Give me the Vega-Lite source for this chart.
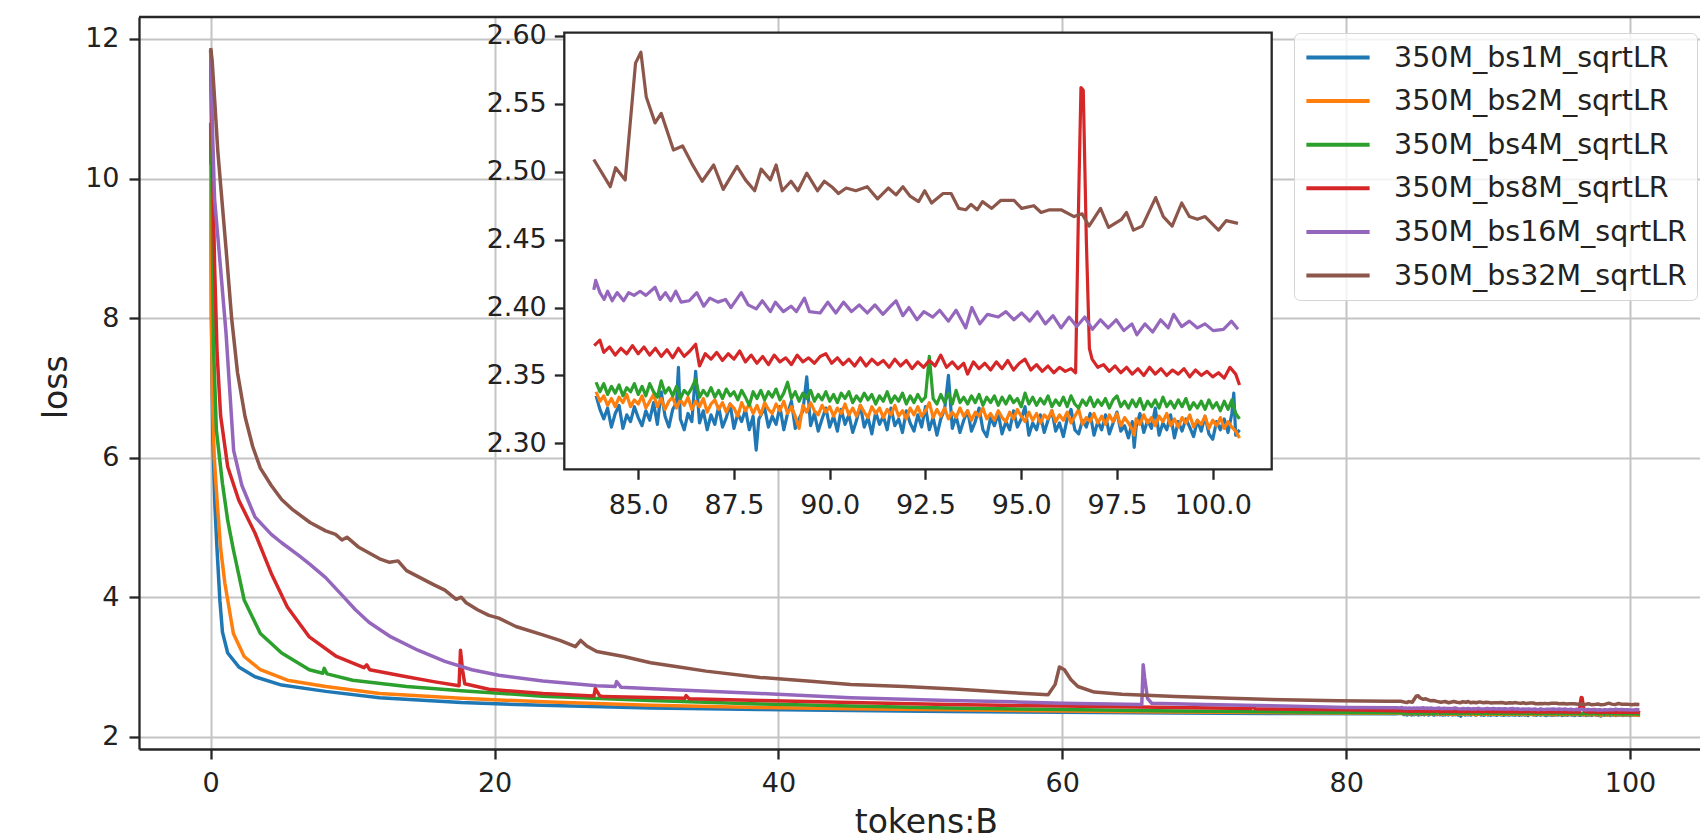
{
"$schema": "https://vega.github.io/schema/vega-lite/v6.json",
"width": 1561, "height": 732,
"autosize": "none",
"padding": {"left": 139, "top": 17, "right": 0, "bottom": 91},
"background": "white",
"config": {"view": {"stroke": null}, "font": "DejaVu Sans"},
"datasets": {
"names": [{"k":1,"s":"350M_bs1M_sqrtLR"},{"k":2,"s":"350M_bs2M_sqrtLR"},{"k":3,"s":"350M_bs4M_sqrtLR"},{"k":4,"s":"350M_bs8M_sqrtLR"},{"k":5,"s":"350M_bs16M_sqrtLR"},{"k":6,"s":"350M_bs32M_sqrtLR"}],
"d": [
{"k":1,"t":0,"l":10.8},{"k":1,"t":0.05,"l":8.0},{"k":1,"t":0.15,"l":6.3},{"k":1,"t":0.3,"l":5.3},{"k":1,"t":0.45,"l":4.68},{"k":1,"t":0.65,"l":3.95},{"k":1,"t":0.83,"l":3.5},{"k":1,"t":1.2,"l":3.2},{"k":1,"t":1.98,"l":3.0},{"k":1,"t":3.12,"l":2.86},{"k":1,"t":5.0,"l":2.74},{"k":1,"t":8.1,"l":2.65},{"k":1,"t":11.9,"l":2.56},{"k":1,"t":17.65,"l":2.49},{"k":1,"t":23.4,"l":2.45},{"k":1,"t":31,"l":2.41},{"k":1,"t":38.7,"l":2.39},{"k":1,"t":45.1,"l":2.375},{"k":1,"t":52,"l":2.36},{"k":1,"t":60,"l":2.35},{"k":1,"t":68,"l":2.34},{"k":1,"t":76,"l":2.333},{"k":1,"t":83.5,"l":2.328},
{"k":1,"t":83.9,"l":2.335},{"k":1,"t":84.0,"l":2.325},{"k":1,"t":84.1,"l":2.318},{"k":1,"t":84.2,"l":2.326},{"k":1,"t":84.3,"l":2.312},{"k":1,"t":84.4,"l":2.322},{"k":1,"t":84.5,"l":2.328},{"k":1,"t":84.6,"l":2.311},{"k":1,"t":84.7,"l":2.321},{"k":1,"t":84.8,"l":2.316},{"k":1,"t":84.9,"l":2.327},{"k":1,"t":85.0,"l":2.319},{"k":1,"t":85.1,"l":2.313},{"k":1,"t":85.2,"l":2.324},{"k":1,"t":85.3,"l":2.317},{"k":1,"t":85.4,"l":2.33},{"k":1,"t":85.5,"l":2.314},{"k":1,"t":85.6,"l":2.338},{"k":1,"t":85.7,"l":2.32},{"k":1,"t":85.8,"l":2.312},{"k":1,"t":85.9,"l":2.325},{"k":1,"t":86.0,"l":2.33},{"k":1,"t":86.05,"l":2.356},{"k":1,"t":86.1,"l":2.318},{"k":1,"t":86.2,"l":2.31},{"k":1,"t":86.3,"l":2.322},{"k":1,"t":86.4,"l":2.316},{"k":1,"t":86.5,"l":2.353},{"k":1,"t":86.6,"l":2.315},{"k":1,"t":86.7,"l":2.324},{"k":1,"t":86.8,"l":2.31},{"k":1,"t":86.9,"l":2.321},{"k":1,"t":87.0,"l":2.314},{"k":1,"t":87.1,"l":2.327},{"k":1,"t":87.2,"l":2.312},{"k":1,"t":87.3,"l":2.319},{"k":1,"t":87.4,"l":2.329},{"k":1,"t":87.5,"l":2.311},{"k":1,"t":87.6,"l":2.322},{"k":1,"t":87.7,"l":2.316},{"k":1,"t":87.8,"l":2.325},{"k":1,"t":87.9,"l":2.31},{"k":1,"t":88.0,"l":2.32},{"k":1,"t":88.08,"l":2.295},{"k":1,"t":88.15,"l":2.318},{"k":1,"t":88.3,"l":2.326},{"k":1,"t":88.4,"l":2.312},{"k":1,"t":88.5,"l":2.32},{"k":1,"t":88.6,"l":2.314},{"k":1,"t":88.7,"l":2.327},{"k":1,"t":88.8,"l":2.31},{"k":1,"t":88.9,"l":2.322},{"k":1,"t":89.0,"l":2.331},{"k":1,"t":89.1,"l":2.311},{"k":1,"t":89.2,"l":2.318},{"k":1,"t":89.3,"l":2.324},{"k":1,"t":89.4,"l":2.349},{"k":1,"t":89.5,"l":2.313},{"k":1,"t":89.6,"l":2.322},{"k":1,"t":89.7,"l":2.309},{"k":1,"t":89.8,"l":2.318},{"k":1,"t":89.9,"l":2.326},{"k":1,"t":90.0,"l":2.312},{"k":1,"t":90.1,"l":2.32},{"k":1,"t":90.2,"l":2.309},{"k":1,"t":90.3,"l":2.325},{"k":1,"t":90.4,"l":2.314},{"k":1,"t":90.5,"l":2.321},{"k":1,"t":90.6,"l":2.308},{"k":1,"t":90.7,"l":2.317},{"k":1,"t":90.8,"l":2.328},{"k":1,"t":90.9,"l":2.312},{"k":1,"t":91.0,"l":2.319},{"k":1,"t":91.1,"l":2.307},{"k":1,"t":91.2,"l":2.323},{"k":1,"t":91.3,"l":2.314},{"k":1,"t":91.4,"l":2.32},{"k":1,"t":91.5,"l":2.31},{"k":1,"t":91.6,"l":2.326},{"k":1,"t":91.7,"l":2.313},{"k":1,"t":91.8,"l":2.318},{"k":1,"t":91.9,"l":2.308},{"k":1,"t":92.0,"l":2.324},{"k":1,"t":92.1,"l":2.315},{"k":1,"t":92.2,"l":2.309},{"k":1,"t":92.3,"l":2.321},{"k":1,"t":92.4,"l":2.312},{"k":1,"t":92.5,"l":2.327},{"k":1,"t":92.6,"l":2.31},{"k":1,"t":92.7,"l":2.319},{"k":1,"t":92.8,"l":2.306},{"k":1,"t":92.9,"l":2.318},{"k":1,"t":93.0,"l":2.325},{"k":1,"t":93.1,"l":2.35},{"k":1,"t":93.2,"l":2.311},{"k":1,"t":93.3,"l":2.32},{"k":1,"t":93.4,"l":2.308},{"k":1,"t":93.5,"l":2.317},{"k":1,"t":93.6,"l":2.324},{"k":1,"t":93.7,"l":2.309},{"k":1,"t":93.8,"l":2.316},{"k":1,"t":93.9,"l":2.326},{"k":1,"t":94.0,"l":2.31},{"k":1,"t":94.1,"l":2.305},{"k":1,"t":94.2,"l":2.319},{"k":1,"t":94.3,"l":2.313},{"k":1,"t":94.4,"l":2.322},{"k":1,"t":94.5,"l":2.307},{"k":1,"t":94.6,"l":2.316},{"k":1,"t":94.7,"l":2.31},{"k":1,"t":94.8,"l":2.324},{"k":1,"t":94.9,"l":2.312},{"k":1,"t":95.0,"l":2.318},{"k":1,"t":95.1,"l":2.327},{"k":1,"t":95.2,"l":2.306},{"k":1,"t":95.3,"l":2.315},{"k":1,"t":95.4,"l":2.31},{"k":1,"t":95.5,"l":2.321},{"k":1,"t":95.6,"l":2.308},{"k":1,"t":95.7,"l":2.317},{"k":1,"t":95.8,"l":2.324},{"k":1,"t":95.9,"l":2.309},{"k":1,"t":96.0,"l":2.315},{"k":1,"t":96.1,"l":2.305},{"k":1,"t":96.2,"l":2.318},{"k":1,"t":96.3,"l":2.325},{"k":1,"t":96.4,"l":2.31},{"k":1,"t":96.5,"l":2.307},{"k":1,"t":96.6,"l":2.317},{"k":1,"t":96.7,"l":2.312},{"k":1,"t":96.8,"l":2.322},{"k":1,"t":96.9,"l":2.306},{"k":1,"t":97.0,"l":2.316},{"k":1,"t":97.1,"l":2.31},{"k":1,"t":97.2,"l":2.321},{"k":1,"t":97.3,"l":2.307},{"k":1,"t":97.4,"l":2.315},{"k":1,"t":97.5,"l":2.323},{"k":1,"t":97.6,"l":2.309},{"k":1,"t":97.7,"l":2.313},{"k":1,"t":97.8,"l":2.304},{"k":1,"t":97.9,"l":2.316},{"k":1,"t":97.95,"l":2.297},{"k":1,"t":98.0,"l":2.312},{"k":1,"t":98.1,"l":2.322},{"k":1,"t":98.2,"l":2.308},{"k":1,"t":98.3,"l":2.317},{"k":1,"t":98.4,"l":2.311},{"k":1,"t":98.5,"l":2.326},{"k":1,"t":98.6,"l":2.306},{"k":1,"t":98.7,"l":2.315},{"k":1,"t":98.8,"l":2.31},{"k":1,"t":98.9,"l":2.321},{"k":1,"t":99.0,"l":2.304},{"k":1,"t":99.1,"l":2.316},{"k":1,"t":99.2,"l":2.309},{"k":1,"t":99.3,"l":2.318},{"k":1,"t":99.4,"l":2.312},{"k":1,"t":99.5,"l":2.305},{"k":1,"t":99.6,"l":2.317},{"k":1,"t":99.7,"l":2.309},{"k":1,"t":99.8,"l":2.32},{"k":1,"t":99.9,"l":2.307},{"k":1,"t":100.0,"l":2.303},{"k":1,"t":100.1,"l":2.316},{"k":1,"t":100.2,"l":2.31},{"k":1,"t":100.3,"l":2.318},{"k":1,"t":100.4,"l":2.308},{"k":1,"t":100.5,"l":2.322},{"k":1,"t":100.55,"l":2.337},{"k":1,"t":100.6,"l":2.306},{"k":1,"t":100.7,"l":2.31},

{"k":2,"t":0,"l":10.2},{"k":2,"t":0.05,"l":8.2},{"k":2,"t":0.12,"l":6.9},{"k":2,"t":0.25,"l":6.0},{"k":2,"t":0.45,"l":5.39},{"k":2,"t":0.7,"l":4.7},{"k":2,"t":1.0,"l":4.2},{"k":2,"t":1.6,"l":3.48},{"k":2,"t":2.36,"l":3.15},{"k":2,"t":3.5,"l":2.96},{"k":2,"t":5.4,"l":2.81},{"k":2,"t":8.1,"l":2.72},{"k":2,"t":11.9,"l":2.62},{"k":2,"t":17.65,"l":2.55},{"k":2,"t":23.4,"l":2.5},{"k":2,"t":31,"l":2.45},{"k":2,"t":38.7,"l":2.42},{"k":2,"t":45.1,"l":2.4},{"k":2,"t":52,"l":2.385},{"k":2,"t":60,"l":2.37},{"k":2,"t":68,"l":2.355},{"k":2,"t":76,"l":2.345},{"k":2,"t":83.5,"l":2.337},
{"k":2,"t":83.9,"l":2.338},{"k":2,"t":84.0,"l":2.331},{"k":2,"t":84.1,"l":2.335},{"k":2,"t":84.2,"l":2.328},{"k":2,"t":84.3,"l":2.333},{"k":2,"t":84.4,"l":2.327},{"k":2,"t":84.5,"l":2.334},{"k":2,"t":84.6,"l":2.33},{"k":2,"t":84.7,"l":2.336},{"k":2,"t":84.8,"l":2.327},{"k":2,"t":84.9,"l":2.332},{"k":2,"t":85.0,"l":2.329},{"k":2,"t":85.1,"l":2.335},{"k":2,"t":85.2,"l":2.326},{"k":2,"t":85.3,"l":2.331},{"k":2,"t":85.4,"l":2.336},{"k":2,"t":85.5,"l":2.327},{"k":2,"t":85.6,"l":2.333},{"k":2,"t":85.7,"l":2.325},{"k":2,"t":85.8,"l":2.331},{"k":2,"t":85.9,"l":2.334},{"k":2,"t":86.0,"l":2.326},{"k":2,"t":86.1,"l":2.332},{"k":2,"t":86.2,"l":2.328},{"k":2,"t":86.3,"l":2.334},{"k":2,"t":86.4,"l":2.325},{"k":2,"t":86.5,"l":2.331},{"k":2,"t":86.6,"l":2.327},{"k":2,"t":86.7,"l":2.333},{"k":2,"t":86.8,"l":2.323},{"k":2,"t":86.9,"l":2.329},{"k":2,"t":87.0,"l":2.332},{"k":2,"t":87.1,"l":2.325},{"k":2,"t":87.2,"l":2.33},{"k":2,"t":87.3,"l":2.323},{"k":2,"t":87.4,"l":2.329},{"k":2,"t":87.5,"l":2.326},{"k":2,"t":87.6,"l":2.32},{"k":2,"t":87.7,"l":2.33},{"k":2,"t":87.8,"l":2.324},{"k":2,"t":87.9,"l":2.329},{"k":2,"t":88.0,"l":2.322},{"k":2,"t":88.1,"l":2.328},{"k":2,"t":88.2,"l":2.321},{"k":2,"t":88.3,"l":2.33},{"k":2,"t":88.4,"l":2.325},{"k":2,"t":88.5,"l":2.322},{"k":2,"t":88.6,"l":2.329},{"k":2,"t":88.7,"l":2.324},{"k":2,"t":88.8,"l":2.331},{"k":2,"t":88.9,"l":2.322},{"k":2,"t":89.0,"l":2.327},{"k":2,"t":89.1,"l":2.32},{"k":2,"t":89.2,"l":2.311},{"k":2,"t":89.3,"l":2.328},{"k":2,"t":89.4,"l":2.323},{"k":2,"t":89.5,"l":2.33},{"k":2,"t":89.6,"l":2.324},{"k":2,"t":89.7,"l":2.321},{"k":2,"t":89.8,"l":2.328},{"k":2,"t":89.9,"l":2.323},{"k":2,"t":90.0,"l":2.327},{"k":2,"t":90.1,"l":2.32},{"k":2,"t":90.2,"l":2.326},{"k":2,"t":90.3,"l":2.322},{"k":2,"t":90.4,"l":2.329},{"k":2,"t":90.5,"l":2.321},{"k":2,"t":90.6,"l":2.326},{"k":2,"t":90.7,"l":2.32},{"k":2,"t":90.8,"l":2.328},{"k":2,"t":90.9,"l":2.323},{"k":2,"t":91.0,"l":2.319},{"k":2,"t":91.1,"l":2.327},{"k":2,"t":91.2,"l":2.322},{"k":2,"t":91.3,"l":2.326},{"k":2,"t":91.4,"l":2.319},{"k":2,"t":91.5,"l":2.325},{"k":2,"t":91.6,"l":2.321},{"k":2,"t":91.7,"l":2.328},{"k":2,"t":91.8,"l":2.32},{"k":2,"t":91.9,"l":2.324},{"k":2,"t":92.0,"l":2.318},{"k":2,"t":92.1,"l":2.326},{"k":2,"t":92.2,"l":2.321},{"k":2,"t":92.3,"l":2.327},{"k":2,"t":92.4,"l":2.32},{"k":2,"t":92.5,"l":2.324},{"k":2,"t":92.6,"l":2.33},{"k":2,"t":92.7,"l":2.319},{"k":2,"t":92.8,"l":2.325},{"k":2,"t":92.9,"l":2.32},{"k":2,"t":93.0,"l":2.326},{"k":2,"t":93.1,"l":2.318},{"k":2,"t":93.2,"l":2.323},{"k":2,"t":93.3,"l":2.319},{"k":2,"t":93.4,"l":2.326},{"k":2,"t":93.5,"l":2.32},{"k":2,"t":93.6,"l":2.324},{"k":2,"t":93.7,"l":2.317},{"k":2,"t":93.8,"l":2.323},{"k":2,"t":93.9,"l":2.32},{"k":2,"t":94.0,"l":2.326},{"k":2,"t":94.1,"l":2.318},{"k":2,"t":94.2,"l":2.322},{"k":2,"t":94.3,"l":2.317},{"k":2,"t":94.4,"l":2.324},{"k":2,"t":94.5,"l":2.319},{"k":2,"t":94.6,"l":2.316},{"k":2,"t":94.7,"l":2.323},{"k":2,"t":94.8,"l":2.318},{"k":2,"t":94.9,"l":2.325},{"k":2,"t":95.0,"l":2.32},{"k":2,"t":95.1,"l":2.316},{"k":2,"t":95.2,"l":2.323},{"k":2,"t":95.3,"l":2.317},{"k":2,"t":95.4,"l":2.322},{"k":2,"t":95.5,"l":2.315},{"k":2,"t":95.6,"l":2.321},{"k":2,"t":95.7,"l":2.318},{"k":2,"t":95.8,"l":2.324},{"k":2,"t":95.9,"l":2.316},{"k":2,"t":96.0,"l":2.321},{"k":2,"t":96.1,"l":2.317},{"k":2,"t":96.2,"l":2.323},{"k":2,"t":96.3,"l":2.315},{"k":2,"t":96.4,"l":2.32},{"k":2,"t":96.5,"l":2.325},{"k":2,"t":96.6,"l":2.314},{"k":2,"t":96.7,"l":2.319},{"k":2,"t":96.8,"l":2.316},{"k":2,"t":96.9,"l":2.322},{"k":2,"t":97.0,"l":2.315},{"k":2,"t":97.1,"l":2.32},{"k":2,"t":97.2,"l":2.314},{"k":2,"t":97.3,"l":2.321},{"k":2,"t":97.4,"l":2.316},{"k":2,"t":97.5,"l":2.322},{"k":2,"t":97.6,"l":2.313},{"k":2,"t":97.7,"l":2.319},{"k":2,"t":97.8,"l":2.315},{"k":2,"t":97.9,"l":2.31},{"k":2,"t":97.95,"l":2.306},{"k":2,"t":98.0,"l":2.318},{"k":2,"t":98.1,"l":2.314},{"k":2,"t":98.2,"l":2.321},{"k":2,"t":98.3,"l":2.315},{"k":2,"t":98.4,"l":2.319},{"k":2,"t":98.5,"l":2.313},{"k":2,"t":98.6,"l":2.32},{"k":2,"t":98.7,"l":2.316},{"k":2,"t":98.8,"l":2.322},{"k":2,"t":98.9,"l":2.313},{"k":2,"t":99.0,"l":2.318},{"k":2,"t":99.1,"l":2.312},{"k":2,"t":99.2,"l":2.319},{"k":2,"t":99.3,"l":2.315},{"k":2,"t":99.4,"l":2.321},{"k":2,"t":99.5,"l":2.312},{"k":2,"t":99.6,"l":2.317},{"k":2,"t":99.7,"l":2.314},{"k":2,"t":99.8,"l":2.32},{"k":2,"t":99.9,"l":2.311},{"k":2,"t":100.0,"l":2.317},{"k":2,"t":100.1,"l":2.313},{"k":2,"t":100.2,"l":2.319},{"k":2,"t":100.3,"l":2.311},{"k":2,"t":100.4,"l":2.316},{"k":2,"t":100.5,"l":2.312},{"k":2,"t":100.6,"l":2.309},{"k":2,"t":100.7,"l":2.304},

{"k":3,"t":0,"l":11.84},{"k":3,"t":0.08,"l":10.0},{"k":3,"t":0.2,"l":7.6},{"k":3,"t":0.4,"l":6.4},{"k":3,"t":0.83,"l":5.63},{"k":3,"t":1.2,"l":5.1},{"k":3,"t":1.6,"l":4.68},{"k":3,"t":2.36,"l":3.96},{"k":3,"t":3.5,"l":3.48},{"k":3,"t":5.0,"l":3.2},{"k":3,"t":6.95,"l":2.96},{"k":3,"t":7.9,"l":2.91},{"k":3,"t":8.0,"l":2.98},{"k":3,"t":8.2,"l":2.9},{"k":3,"t":10,"l":2.81},{"k":3,"t":13.8,"l":2.72},{"k":3,"t":17.65,"l":2.66},{"k":3,"t":23.4,"l":2.58},{"k":3,"t":31,"l":2.52},{"k":3,"t":38.7,"l":2.47},{"k":3,"t":45.1,"l":2.44},{"k":3,"t":52,"l":2.41},{"k":3,"t":60,"l":2.39},{"k":3,"t":68,"l":2.37},{"k":3,"t":76,"l":2.355},{"k":3,"t":83.5,"l":2.345},
{"k":3,"t":83.9,"l":2.345},{"k":3,"t":84.0,"l":2.338},{"k":3,"t":84.1,"l":2.344},{"k":3,"t":84.2,"l":2.336},{"k":3,"t":84.3,"l":2.342},{"k":3,"t":84.4,"l":2.337},{"k":3,"t":84.5,"l":2.343},{"k":3,"t":84.6,"l":2.335},{"k":3,"t":84.7,"l":2.341},{"k":3,"t":84.8,"l":2.338},{"k":3,"t":84.9,"l":2.344},{"k":3,"t":85.0,"l":2.336},{"k":3,"t":85.1,"l":2.342},{"k":3,"t":85.2,"l":2.335},{"k":3,"t":85.3,"l":2.344},{"k":3,"t":85.4,"l":2.338},{"k":3,"t":85.5,"l":2.334},{"k":3,"t":85.6,"l":2.346},{"k":3,"t":85.7,"l":2.337},{"k":3,"t":85.8,"l":2.341},{"k":3,"t":85.9,"l":2.335},{"k":3,"t":86.0,"l":2.342},{"k":3,"t":86.1,"l":2.333},{"k":3,"t":86.2,"l":2.339},{"k":3,"t":86.3,"l":2.336},{"k":3,"t":86.4,"l":2.341},{"k":3,"t":86.5,"l":2.347},{"k":3,"t":86.6,"l":2.334},{"k":3,"t":86.7,"l":2.339},{"k":3,"t":86.8,"l":2.335},{"k":3,"t":86.9,"l":2.341},{"k":3,"t":87.0,"l":2.334},{"k":3,"t":87.1,"l":2.339},{"k":3,"t":87.2,"l":2.333},{"k":3,"t":87.3,"l":2.34},{"k":3,"t":87.4,"l":2.335},{"k":3,"t":87.5,"l":2.338},{"k":3,"t":87.6,"l":2.332},{"k":3,"t":87.7,"l":2.339},{"k":3,"t":87.8,"l":2.334},{"k":3,"t":87.9,"l":2.328},{"k":3,"t":88.0,"l":2.338},{"k":3,"t":88.1,"l":2.333},{"k":3,"t":88.2,"l":2.339},{"k":3,"t":88.3,"l":2.332},{"k":3,"t":88.4,"l":2.338},{"k":3,"t":88.5,"l":2.334},{"k":3,"t":88.6,"l":2.34},{"k":3,"t":88.7,"l":2.332},{"k":3,"t":88.8,"l":2.337},{"k":3,"t":88.9,"l":2.345},{"k":3,"t":89.0,"l":2.333},{"k":3,"t":89.1,"l":2.338},{"k":3,"t":89.2,"l":2.331},{"k":3,"t":89.3,"l":2.337},{"k":3,"t":89.4,"l":2.333},{"k":3,"t":89.5,"l":2.339},{"k":3,"t":89.6,"l":2.331},{"k":3,"t":89.7,"l":2.336},{"k":3,"t":89.8,"l":2.332},{"k":3,"t":89.9,"l":2.338},{"k":3,"t":90.0,"l":2.331},{"k":3,"t":90.1,"l":2.336},{"k":3,"t":90.2,"l":2.33},{"k":3,"t":90.3,"l":2.337},{"k":3,"t":90.4,"l":2.333},{"k":3,"t":90.5,"l":2.338},{"k":3,"t":90.6,"l":2.33},{"k":3,"t":90.7,"l":2.335},{"k":3,"t":90.8,"l":2.331},{"k":3,"t":90.9,"l":2.337},{"k":3,"t":91.0,"l":2.332},{"k":3,"t":91.1,"l":2.336},{"k":3,"t":91.2,"l":2.329},{"k":3,"t":91.3,"l":2.335},{"k":3,"t":91.4,"l":2.331},{"k":3,"t":91.5,"l":2.338},{"k":3,"t":91.6,"l":2.33},{"k":3,"t":91.7,"l":2.335},{"k":3,"t":91.8,"l":2.331},{"k":3,"t":91.9,"l":2.337},{"k":3,"t":92.0,"l":2.329},{"k":3,"t":92.1,"l":2.335},{"k":3,"t":92.2,"l":2.33},{"k":3,"t":92.3,"l":2.336},{"k":3,"t":92.4,"l":2.331},{"k":3,"t":92.5,"l":2.334},{"k":3,"t":92.6,"l":2.364},{"k":3,"t":92.7,"l":2.333},{"k":3,"t":92.8,"l":2.329},{"k":3,"t":92.9,"l":2.336},{"k":3,"t":93.0,"l":2.33},{"k":3,"t":93.1,"l":2.337},{"k":3,"t":93.2,"l":2.329},{"k":3,"t":93.3,"l":2.339},{"k":3,"t":93.4,"l":2.33},{"k":3,"t":93.5,"l":2.334},{"k":3,"t":93.6,"l":2.329},{"k":3,"t":93.7,"l":2.335},{"k":3,"t":93.8,"l":2.33},{"k":3,"t":93.9,"l":2.336},{"k":3,"t":94.0,"l":2.328},{"k":3,"t":94.1,"l":2.334},{"k":3,"t":94.2,"l":2.33},{"k":3,"t":94.3,"l":2.335},{"k":3,"t":94.4,"l":2.328},{"k":3,"t":94.5,"l":2.334},{"k":3,"t":94.6,"l":2.329},{"k":3,"t":94.7,"l":2.335},{"k":3,"t":94.8,"l":2.33},{"k":3,"t":94.9,"l":2.333},{"k":3,"t":95.0,"l":2.327},{"k":3,"t":95.1,"l":2.337},{"k":3,"t":95.2,"l":2.329},{"k":3,"t":95.3,"l":2.334},{"k":3,"t":95.4,"l":2.328},{"k":3,"t":95.5,"l":2.333},{"k":3,"t":95.6,"l":2.329},{"k":3,"t":95.7,"l":2.335},{"k":3,"t":95.8,"l":2.327},{"k":3,"t":95.9,"l":2.332},{"k":3,"t":96.0,"l":2.328},{"k":3,"t":96.1,"l":2.334},{"k":3,"t":96.2,"l":2.327},{"k":3,"t":96.3,"l":2.335},{"k":3,"t":96.4,"l":2.329},{"k":3,"t":96.5,"l":2.326},{"k":3,"t":96.6,"l":2.332},{"k":3,"t":96.7,"l":2.328},{"k":3,"t":96.8,"l":2.334},{"k":3,"t":96.9,"l":2.327},{"k":3,"t":97.0,"l":2.332},{"k":3,"t":97.1,"l":2.328},{"k":3,"t":97.2,"l":2.333},{"k":3,"t":97.3,"l":2.326},{"k":3,"t":97.4,"l":2.332},{"k":3,"t":97.5,"l":2.335},{"k":3,"t":97.6,"l":2.327},{"k":3,"t":97.7,"l":2.331},{"k":3,"t":97.8,"l":2.326},{"k":3,"t":97.9,"l":2.332},{"k":3,"t":98.0,"l":2.327},{"k":3,"t":98.1,"l":2.333},{"k":3,"t":98.2,"l":2.325},{"k":3,"t":98.3,"l":2.331},{"k":3,"t":98.4,"l":2.327},{"k":3,"t":98.5,"l":2.332},{"k":3,"t":98.6,"l":2.326},{"k":3,"t":98.7,"l":2.334},{"k":3,"t":98.8,"l":2.327},{"k":3,"t":98.9,"l":2.331},{"k":3,"t":99.0,"l":2.326},{"k":3,"t":99.1,"l":2.332},{"k":3,"t":99.2,"l":2.327},{"k":3,"t":99.3,"l":2.333},{"k":3,"t":99.4,"l":2.325},{"k":3,"t":99.5,"l":2.33},{"k":3,"t":99.6,"l":2.326},{"k":3,"t":99.7,"l":2.331},{"k":3,"t":99.8,"l":2.325},{"k":3,"t":99.9,"l":2.332},{"k":3,"t":100.0,"l":2.326},{"k":3,"t":100.1,"l":2.33},{"k":3,"t":100.2,"l":2.324},{"k":3,"t":100.3,"l":2.331},{"k":3,"t":100.4,"l":2.325},{"k":3,"t":100.5,"l":2.332},{"k":3,"t":100.6,"l":2.322},{"k":3,"t":100.7,"l":2.318},

{"k":4,"t":0,"l":11.84},{"k":4,"t":0.1,"l":10.6},{"k":4,"t":0.27,"l":8.8},{"k":4,"t":0.45,"l":7.5},{"k":4,"t":0.7,"l":6.6},{"k":4,"t":1.2,"l":5.87},{"k":4,"t":1.98,"l":5.39},{"k":4,"t":3.12,"l":4.92},{"k":4,"t":4.27,"l":4.34},{"k":4,"t":5.4,"l":3.86},{"k":4,"t":6.95,"l":3.43},{"k":4,"t":8.86,"l":3.15},{"k":4,"t":10.8,"l":2.99},{"k":4,"t":11.0,"l":3.03},{"k":4,"t":11.2,"l":2.96},{"k":4,"t":13.8,"l":2.86},{"k":4,"t":15.7,"l":2.79},{"k":4,"t":17.5,"l":2.73},{"k":4,"t":17.6,"l":3.24},{"k":4,"t":17.75,"l":2.95},{"k":4,"t":17.9,"l":2.76},{"k":4,"t":19.6,"l":2.68},{"k":4,"t":23.4,"l":2.62},{"k":4,"t":27.0,"l":2.585},{"k":4,"t":27.1,"l":2.69},{"k":4,"t":27.4,"l":2.59},{"k":4,"t":27.6,"l":2.575},{"k":4,"t":33.4,"l":2.55},{"k":4,"t":33.5,"l":2.59},{"k":4,"t":33.7,"l":2.545},{"k":4,"t":38.7,"l":2.52},{"k":4,"t":45.1,"l":2.49},{"k":4,"t":52,"l":2.46},{"k":4,"t":60,"l":2.44},{"k":4,"t":68,"l":2.42},{"k":4,"t":73.3,"l":2.405},{"k":4,"t":73.4,"l":2.43},{"k":4,"t":73.6,"l":2.4},{"k":4,"t":80,"l":2.385},{"k":4,"t":83.5,"l":2.372},
{"k":4,"t":83.85,"l":2.372},{"k":4,"t":84.0,"l":2.376},{"k":4,"t":84.1,"l":2.367},{"k":4,"t":84.25,"l":2.371},{"k":4,"t":84.4,"l":2.365},{"k":4,"t":84.55,"l":2.37},{"k":4,"t":84.7,"l":2.366},{"k":4,"t":84.85,"l":2.372},{"k":4,"t":85.0,"l":2.366},{"k":4,"t":85.15,"l":2.371},{"k":4,"t":85.3,"l":2.365},{"k":4,"t":85.45,"l":2.37},{"k":4,"t":85.6,"l":2.364},{"k":4,"t":85.75,"l":2.369},{"k":4,"t":85.9,"l":2.363},{"k":4,"t":86.05,"l":2.37},{"k":4,"t":86.2,"l":2.364},{"k":4,"t":86.35,"l":2.368},{"k":4,"t":86.5,"l":2.373},{"k":4,"t":86.6,"l":2.357},{"k":4,"t":86.75,"l":2.366},{"k":4,"t":86.9,"l":2.362},{"k":4,"t":87.05,"l":2.367},{"k":4,"t":87.2,"l":2.361},{"k":4,"t":87.35,"l":2.366},{"k":4,"t":87.5,"l":2.362},{"k":4,"t":87.65,"l":2.368},{"k":4,"t":87.8,"l":2.36},{"k":4,"t":87.95,"l":2.365},{"k":4,"t":88.1,"l":2.359},{"k":4,"t":88.25,"l":2.364},{"k":4,"t":88.4,"l":2.358},{"k":4,"t":88.55,"l":2.365},{"k":4,"t":88.7,"l":2.36},{"k":4,"t":88.85,"l":2.363},{"k":4,"t":89.0,"l":2.358},{"k":4,"t":89.15,"l":2.365},{"k":4,"t":89.3,"l":2.36},{"k":4,"t":89.45,"l":2.363},{"k":4,"t":89.6,"l":2.359},{"k":4,"t":89.75,"l":2.364},{"k":4,"t":89.9,"l":2.366},{"k":4,"t":90.05,"l":2.359},{"k":4,"t":90.2,"l":2.363},{"k":4,"t":90.35,"l":2.358},{"k":4,"t":90.5,"l":2.362},{"k":4,"t":90.65,"l":2.357},{"k":4,"t":90.8,"l":2.363},{"k":4,"t":90.95,"l":2.357},{"k":4,"t":91.1,"l":2.362},{"k":4,"t":91.25,"l":2.358},{"k":4,"t":91.4,"l":2.361},{"k":4,"t":91.55,"l":2.356},{"k":4,"t":91.7,"l":2.362},{"k":4,"t":91.85,"l":2.357},{"k":4,"t":92.0,"l":2.361},{"k":4,"t":92.15,"l":2.355},{"k":4,"t":92.3,"l":2.36},{"k":4,"t":92.45,"l":2.356},{"k":4,"t":92.6,"l":2.361},{"k":4,"t":92.75,"l":2.357},{"k":4,"t":92.9,"l":2.365},{"k":4,"t":93.05,"l":2.356},{"k":4,"t":93.2,"l":2.36},{"k":4,"t":93.35,"l":2.355},{"k":4,"t":93.5,"l":2.359},{"k":4,"t":93.6,"l":2.351},{"k":4,"t":93.75,"l":2.36},{"k":4,"t":93.9,"l":2.355},{"k":4,"t":94.05,"l":2.359},{"k":4,"t":94.2,"l":2.354},{"k":4,"t":94.35,"l":2.36},{"k":4,"t":94.5,"l":2.355},{"k":4,"t":94.65,"l":2.361},{"k":4,"t":94.8,"l":2.354},{"k":4,"t":94.95,"l":2.359},{"k":4,"t":95.1,"l":2.362},{"k":4,"t":95.25,"l":2.354},{"k":4,"t":95.4,"l":2.358},{"k":4,"t":95.55,"l":2.353},{"k":4,"t":95.7,"l":2.357},{"k":4,"t":95.85,"l":2.352},{"k":4,"t":96.0,"l":2.356},{"k":4,"t":96.15,"l":2.353},{"k":4,"t":96.3,"l":2.355},{"k":4,"t":96.42,"l":2.352},{"k":4,"t":96.5,"l":2.48},{"k":4,"t":96.56,"l":2.562},{"k":4,"t":96.62,"l":2.56},{"k":4,"t":96.7,"l":2.45},{"k":4,"t":96.78,"l":2.37},{"k":4,"t":96.85,"l":2.362},{"k":4,"t":97.0,"l":2.356},{"k":4,"t":97.15,"l":2.358},{"k":4,"t":97.3,"l":2.353},{"k":4,"t":97.45,"l":2.357},{"k":4,"t":97.6,"l":2.352},{"k":4,"t":97.75,"l":2.356},{"k":4,"t":97.9,"l":2.351},{"k":4,"t":98.05,"l":2.355},{"k":4,"t":98.2,"l":2.35},{"k":4,"t":98.35,"l":2.356},{"k":4,"t":98.5,"l":2.351},{"k":4,"t":98.65,"l":2.355},{"k":4,"t":98.8,"l":2.35},{"k":4,"t":98.95,"l":2.354},{"k":4,"t":99.1,"l":2.351},{"k":4,"t":99.25,"l":2.355},{"k":4,"t":99.4,"l":2.349},{"k":4,"t":99.55,"l":2.354},{"k":4,"t":99.7,"l":2.35},{"k":4,"t":99.85,"l":2.353},{"k":4,"t":100.0,"l":2.349},{"k":4,"t":100.15,"l":2.352},{"k":4,"t":100.3,"l":2.348},{"k":4,"t":100.45,"l":2.356},{"k":4,"t":100.6,"l":2.351},{"k":4,"t":100.7,"l":2.343},

{"k":5,"t":0,"l":11.84},{"k":5,"t":0.1,"l":10.9},{"k":5,"t":0.27,"l":9.72},{"k":5,"t":0.68,"l":8.75},{"k":5,"t":1.08,"l":7.79},{"k":5,"t":1.62,"l":6.1},{"k":5,"t":2.2,"l":5.6},{"k":5,"t":3.12,"l":5.15},{"k":5,"t":4.27,"l":4.9},{"k":5,"t":5.0,"l":4.78},{"k":5,"t":6.2,"l":4.6},{"k":5,"t":7.0,"l":4.47},{"k":5,"t":8.1,"l":4.28},{"k":5,"t":9.25,"l":4.03},{"k":5,"t":10.2,"l":3.82},{"k":5,"t":11.15,"l":3.64},{"k":5,"t":12.7,"l":3.43},{"k":5,"t":14.6,"l":3.24},{"k":5,"t":16.5,"l":3.08},{"k":5,"t":18.4,"l":2.96},{"k":5,"t":20.3,"l":2.88},{"k":5,"t":23.4,"l":2.8},{"k":5,"t":27.2,"l":2.73},{"k":5,"t":28.5,"l":2.72},{"k":5,"t":28.6,"l":2.79},{"k":5,"t":28.9,"l":2.71},{"k":5,"t":33,"l":2.67},{"k":5,"t":38.7,"l":2.62},{"k":5,"t":45.1,"l":2.56},{"k":5,"t":52,"l":2.52},{"k":5,"t":56.5,"l":2.5},{"k":5,"t":60,"l":2.48},{"k":5,"t":65.6,"l":2.46},{"k":5,"t":65.7,"l":3.03},{"k":5,"t":65.8,"l":2.85},{"k":5,"t":66.0,"l":2.55},{"k":5,"t":66.3,"l":2.48},{"k":5,"t":70,"l":2.46},{"k":5,"t":75.6,"l":2.44},{"k":5,"t":80,"l":2.42},{"k":5,"t":83.5,"l":2.415},
{"k":5,"t":83.84,"l":2.413},{"k":5,"t":83.89,"l":2.42},{"k":5,"t":84.0,"l":2.411},{"k":5,"t":84.11,"l":2.406},{"k":5,"t":84.2,"l":2.412},{"k":5,"t":84.32,"l":2.405},{"k":5,"t":84.45,"l":2.411},{"k":5,"t":84.62,"l":2.405},{"k":5,"t":84.75,"l":2.411},{"k":5,"t":84.89,"l":2.409},{"k":5,"t":85.05,"l":2.412},{"k":5,"t":85.2,"l":2.409},{"k":5,"t":85.44,"l":2.415},{"k":5,"t":85.57,"l":2.406},{"k":5,"t":85.71,"l":2.411},{"k":5,"t":85.85,"l":2.405},{"k":5,"t":85.98,"l":2.412},{"k":5,"t":86.12,"l":2.404},{"k":5,"t":86.33,"l":2.405},{"k":5,"t":86.53,"l":2.411},{"k":5,"t":86.71,"l":2.401},{"k":5,"t":86.87,"l":2.407},{"k":5,"t":87.08,"l":2.404},{"k":5,"t":87.28,"l":2.406},{"k":5,"t":87.42,"l":2.4},{"k":5,"t":87.69,"l":2.411},{"k":5,"t":87.87,"l":2.402},{"k":5,"t":88.08,"l":2.399},{"k":5,"t":88.24,"l":2.405},{"k":5,"t":88.45,"l":2.397},{"k":5,"t":88.58,"l":2.404},{"k":5,"t":88.79,"l":2.397},{"k":5,"t":88.99,"l":2.401},{"k":5,"t":89.13,"l":2.397},{"k":5,"t":89.34,"l":2.407},{"k":5,"t":89.47,"l":2.397},{"k":5,"t":89.75,"l":2.396},{"k":5,"t":89.95,"l":2.404},{"k":5,"t":90.16,"l":2.396},{"k":5,"t":90.36,"l":2.404},{"k":5,"t":90.57,"l":2.397},{"k":5,"t":90.77,"l":2.402},{"k":5,"t":90.98,"l":2.396},{"k":5,"t":91.18,"l":2.402},{"k":5,"t":91.39,"l":2.395},{"k":5,"t":91.59,"l":2.401},{"k":5,"t":91.73,"l":2.405},{"k":5,"t":91.91,"l":2.394},{"k":5,"t":92.07,"l":2.4},{"k":5,"t":92.28,"l":2.391},{"k":5,"t":92.46,"l":2.397},{"k":5,"t":92.69,"l":2.393},{"k":5,"t":92.87,"l":2.398},{"k":5,"t":93.1,"l":2.39},{"k":5,"t":93.3,"l":2.398},{"k":5,"t":93.55,"l":2.385},{"k":5,"t":93.71,"l":2.4},{"k":5,"t":93.92,"l":2.388},{"k":5,"t":94.12,"l":2.395},{"k":5,"t":94.4,"l":2.393},{"k":5,"t":94.6,"l":2.397},{"k":5,"t":94.81,"l":2.391},{"k":5,"t":95.01,"l":2.396},{"k":5,"t":95.22,"l":2.39},{"k":5,"t":95.42,"l":2.397},{"k":5,"t":95.63,"l":2.388},{"k":5,"t":95.83,"l":2.394},{"k":5,"t":96.04,"l":2.385},{"k":5,"t":96.25,"l":2.393},{"k":5,"t":96.45,"l":2.386},{"k":5,"t":96.66,"l":2.393},{"k":5,"t":96.86,"l":2.384},{"k":5,"t":97.07,"l":2.391},{"k":5,"t":97.27,"l":2.385},{"k":5,"t":97.48,"l":2.391},{"k":5,"t":97.68,"l":2.383},{"k":5,"t":97.89,"l":2.388},{"k":5,"t":98.02,"l":2.38},{"k":5,"t":98.23,"l":2.388},{"k":5,"t":98.43,"l":2.382},{"k":5,"t":98.64,"l":2.391},{"k":5,"t":98.84,"l":2.385},{"k":5,"t":98.98,"l":2.395},{"k":5,"t":99.19,"l":2.386},{"k":5,"t":99.39,"l":2.39},{"k":5,"t":99.6,"l":2.385},{"k":5,"t":99.8,"l":2.388},{"k":5,"t":100.01,"l":2.383},{"k":5,"t":100.28,"l":2.384},{"k":5,"t":100.49,"l":2.39},{"k":5,"t":100.66,"l":2.384},

{"k":6,"t":0,"l":11.87},{"k":6,"t":0.1,"l":11.7},{"k":6,"t":0.27,"l":11.16},{"k":6,"t":0.5,"l":10.4},{"k":6,"t":0.68,"l":9.96},{"k":6,"t":1.08,"l":9.0},{"k":6,"t":1.48,"l":7.99},{"k":6,"t":1.89,"l":7.22},{"k":6,"t":2.42,"l":6.59},{"k":6,"t":2.96,"l":6.16},{"k":6,"t":3.5,"l":5.85},{"k":6,"t":4.27,"l":5.6},{"k":6,"t":5.0,"l":5.4},{"k":6,"t":5.8,"l":5.25},{"k":6,"t":7.0,"l":5.07},{"k":6,"t":8.1,"l":4.95},{"k":6,"t":8.8,"l":4.9},{"k":6,"t":9.25,"l":4.82},{"k":6,"t":9.6,"l":4.86},{"k":6,"t":10.4,"l":4.72},{"k":6,"t":11.9,"l":4.55},{"k":6,"t":12.6,"l":4.5},{"k":6,"t":13.2,"l":4.52},{"k":6,"t":13.8,"l":4.38},{"k":6,"t":15.7,"l":4.18},{"k":6,"t":16.5,"l":4.1},{"k":6,"t":17.3,"l":3.97},{"k":6,"t":17.65,"l":4.0},{"k":6,"t":18.0,"l":3.92},{"k":6,"t":18.8,"l":3.82},{"k":6,"t":19.6,"l":3.74},{"k":6,"t":20.3,"l":3.7},{"k":6,"t":21.5,"l":3.58},{"k":6,"t":23.4,"l":3.46},{"k":6,"t":24.6,"l":3.38},{"k":6,"t":25.7,"l":3.29},{"k":6,"t":26.07,"l":3.38},{"k":6,"t":26.5,"l":3.3},{"k":6,"t":27.2,"l":3.22},{"k":6,"t":29.1,"l":3.15},{"k":6,"t":31.0,"l":3.06},{"k":6,"t":33,"l":3.0},{"k":6,"t":34.9,"l":2.94},{"k":6,"t":38.7,"l":2.85},{"k":6,"t":42.5,"l":2.79},{"k":6,"t":45.1,"l":2.75},{"k":6,"t":48.9,"l":2.72},{"k":6,"t":52.7,"l":2.68},{"k":6,"t":56.5,"l":2.63},{"k":6,"t":59.0,"l":2.6},{"k":6,"t":59.5,"l":2.75},{"k":6,"t":59.8,"l":3.0},{"k":6,"t":60.15,"l":2.96},{"k":6,"t":60.6,"l":2.82},{"k":6,"t":61.1,"l":2.72},{"k":6,"t":62.25,"l":2.64},{"k":6,"t":64.2,"l":2.61},{"k":6,"t":68,"l":2.575},{"k":6,"t":71.8,"l":2.55},{"k":6,"t":75.6,"l":2.53},{"k":6,"t":79.4,"l":2.515},{"k":6,"t":83.0,"l":2.51},
{"k":6,"t":83.84,"l":2.509},{"k":6,"t":84.27,"l":2.489},{"k":6,"t":84.41,"l":2.503},{"k":6,"t":84.66,"l":2.494},{"k":6,"t":84.93,"l":2.58},{"k":6,"t":85.07,"l":2.588},{"k":6,"t":85.21,"l":2.555},{"k":6,"t":85.44,"l":2.536},{"k":6,"t":85.6,"l":2.543},{"k":6,"t":85.92,"l":2.516},{"k":6,"t":86.16,"l":2.519},{"k":6,"t":86.4,"l":2.506},{"k":6,"t":86.67,"l":2.493},{"k":6,"t":86.97,"l":2.505},{"k":6,"t":87.22,"l":2.487},{"k":6,"t":87.58,"l":2.504},{"k":6,"t":87.8,"l":2.494},{"k":6,"t":88.04,"l":2.486},{"k":6,"t":88.21,"l":2.502},{"k":6,"t":88.45,"l":2.494},{"k":6,"t":88.6,"l":2.505},{"k":6,"t":88.76,"l":2.486},{"k":6,"t":88.99,"l":2.493},{"k":6,"t":89.17,"l":2.486},{"k":6,"t":89.4,"l":2.499},{"k":6,"t":89.68,"l":2.486},{"k":6,"t":89.86,"l":2.493},{"k":6,"t":90.05,"l":2.489},{"k":6,"t":90.23,"l":2.484},{"k":6,"t":90.43,"l":2.488},{"k":6,"t":90.68,"l":2.486},{"k":6,"t":90.98,"l":2.489},{"k":6,"t":91.25,"l":2.48},{"k":6,"t":91.53,"l":2.488},{"k":6,"t":91.73,"l":2.483},{"k":6,"t":91.91,"l":2.489},{"k":6,"t":92.1,"l":2.482},{"k":6,"t":92.32,"l":2.478},{"k":6,"t":92.48,"l":2.486},{"k":6,"t":92.66,"l":2.477},{"k":6,"t":92.96,"l":2.484},{"k":6,"t":93.17,"l":2.484},{"k":6,"t":93.37,"l":2.473},{"k":6,"t":93.55,"l":2.472},{"k":6,"t":93.69,"l":2.476},{"k":6,"t":93.85,"l":2.472},{"k":6,"t":93.99,"l":2.478},{"k":6,"t":94.23,"l":2.473},{"k":6,"t":94.47,"l":2.479},{"k":6,"t":94.81,"l":2.479},{"k":6,"t":95.01,"l":2.473},{"k":6,"t":95.33,"l":2.475},{"k":6,"t":95.52,"l":2.47},{"k":6,"t":95.74,"l":2.472},{"k":6,"t":96.04,"l":2.472},{"k":6,"t":96.38,"l":2.467},{"k":6,"t":96.59,"l":2.469},{"k":6,"t":96.77,"l":2.46},{"k":6,"t":97.07,"l":2.473},{"k":6,"t":97.28,"l":2.459},{"k":6,"t":97.62,"l":2.465},{"k":6,"t":97.75,"l":2.47},{"k":6,"t":97.93,"l":2.457},{"k":6,"t":98.16,"l":2.46},{"k":6,"t":98.51,"l":2.481},{"k":6,"t":98.71,"l":2.467},{"k":6,"t":98.94,"l":2.46},{"k":6,"t":99.19,"l":2.477},{"k":6,"t":99.39,"l":2.467},{"k":6,"t":99.6,"l":2.465},{"k":6,"t":99.8,"l":2.467},{"k":6,"t":100.15,"l":2.457},{"k":6,"t":100.35,"l":2.464},{"k":6,"t":100.66,"l":2.462}
]
},
"data": {"name": "d"},
"layer": [
  {
    "layer": [
      {
        "data": {"values": [{}]},
        "mark": {"type": "rule", "color": "#262626", "strokeWidth": 2.3},
        "encoding": {"y": {"datum": 12.315, "type": "quantitative", "scale": {"domain": [1.824, 12.315], "nice": false, "zero": false}}}
      },
      {
        "transform": [{"lookup": "k", "from": {"data": {"name": "names"}, "key": "k", "fields": ["s"]}}],
        "mark": {"type": "line", "strokeWidth": 3.5, "strokeJoin": "round"},
        "encoding": {
          "x": {"field": "t", "type": "quantitative",
                "scale": {"domain": [-5.05, 104.93], "nice": false, "zero": false},
                "axis": {"values": [0, 20, 40, 60, 80, 100], "format": "d", "grid": true,
                         "gridColor": "#c4c4c4", "gridWidth": 2,
                         "domainColor": "#262626", "domainWidth": 2.3,
                         "tickColor": "#262626", "tickWidth": 2.3, "tickSize": 10,
                         "labelFont": "DejaVu Sans", "labelFontSize": 27, "labelColor": "#222",
                         "labelBaseline": "alphabetic", "labelPadding": 32.7,
                         "title": "tokens:B", "titleFont": "DejaVu Sans", "titleFontSize": 33, "titleFontWeight": "normal",
                         "titleColor": "#222", "titleX": 786.8, "titleY": 83, "titleBaseline": "alphabetic", "titleAlign": "center"}},
          "y": {"field": "l", "type": "quantitative",
                "scale": {"domain": [1.824, 12.315], "nice": false, "zero": false},
                "axis": {"values": [2, 4, 6, 8, 10, 12], "format": "d", "grid": true,
                         "gridColor": "#c4c4c4", "gridWidth": 2,
                         "domainColor": "#262626", "domainWidth": 2.3,
                         "tickColor": "#262626", "tickWidth": 2.3, "tickSize": 10,
                         "labelFont": "DejaVu Sans", "labelFontSize": 27, "labelColor": "#222", "labelPadding": 10,
                         "title": "loss", "titleFont": "DejaVu Sans", "titleFontSize": 33, "titleFontWeight": "normal",
                         "titleColor": "#222", "titleX": -72.3, "titleY": 369.7, "titleAngle": -90,
                         "titleBaseline": "alphabetic", "titleAlign": "center"}},
          "color": {"field": "s", "type": "nominal",
                    "scale": {"domain": ["350M_bs1M_sqrtLR", "350M_bs2M_sqrtLR", "350M_bs4M_sqrtLR", "350M_bs8M_sqrtLR", "350M_bs16M_sqrtLR", "350M_bs32M_sqrtLR"],
                              "range": ["#1f77b4", "#ff7f0e", "#2ca02c", "#d62728", "#9467bd", "#8c564b"]},
                    "legend": {"orient": "none", "legendX": 1155, "legendY": 16, "title": null,
                               "symbolType": "stroke", "symbolSize": 4000, "symbolStrokeWidth": 4,
                               "labelFont": "DejaVu Sans", "labelFontSize": 28.5, "labelColor": "#222", "labelLimit": 500,
                               "labelOffset": 22, "padding": 10, "rowPadding": 14.6, "clipHeight": 29,
                               "fillColor": "rgba(255,255,255,0.8)", "strokeColor": "#d4d4d4", "cornerRadius": 6}}
        }
      }
    ]
  },
  {
    "layer": [
      {
        "data": {"values": [{}]},
        "mark": {"type": "rect", "fill": "white", "stroke": "#262626", "strokeWidth": 2.3},
        "encoding": {
          "x": {"datum": 83.07, "type": "quantitative", "scale": {"domain": [83.07, 101.54], "range": [425.3, 1132.7], "nice": false, "zero": false}},
          "x2": {"datum": 101.54},
          "y": {"datum": 2.2809, "type": "quantitative", "scale": {"domain": [2.2809, 2.6024], "range": [452.3, 15.7], "nice": false, "zero": false}},
          "y2": {"datum": 2.6024}
        }
      },
      {
        "transform": [{"filter": "datum.t >= 83.8"}, {"lookup": "k", "from": {"data": {"name": "names"}, "key": "k", "fields": ["s"]}}],
        "mark": {"type": "line", "strokeWidth": 3.2, "strokeJoin": "round", "clip": true},
        "encoding": {
          "x": {"field": "t", "type": "quantitative",
                "scale": {"domain": [83.07, 101.54], "range": [425.3, 1132.7], "nice": false, "zero": false},
                "axis": {"orient": "bottom", "offset": -279.7, "values": [85, 87.5, 90, 92.5, 95, 97.5, 100], "format": ".1f",
                         "grid": false, "domain": false, "zindex": 1,
                         "tickColor": "#262626", "tickWidth": 2.3, "tickSize": 10,
                         "labelFont": "DejaVu Sans", "labelFontSize": 27, "labelColor": "#222",
                         "labelBaseline": "alphabetic", "labelPadding": 34, "title": null}},
          "y": {"field": "l", "type": "quantitative",
                "scale": {"domain": [2.2809, 2.6024], "range": [452.3, 15.7], "nice": false, "zero": false},
                "axis": {"orient": "left", "offset": -425.3, "values": [2.3, 2.35, 2.4, 2.45, 2.5, 2.55, 2.6], "format": ".2f",
                         "grid": false, "domain": false, "zindex": 1,
                         "tickColor": "#262626", "tickWidth": 2.3, "tickSize": 10,
                         "labelFont": "DejaVu Sans", "labelFontSize": 27, "labelColor": "#222", "labelPadding": 8, "title": null}},
          "color": {"field": "s", "type": "nominal",
                    "scale": {"domain": ["350M_bs1M_sqrtLR", "350M_bs2M_sqrtLR", "350M_bs4M_sqrtLR", "350M_bs8M_sqrtLR", "350M_bs16M_sqrtLR", "350M_bs32M_sqrtLR"],
                              "range": ["#1f77b4", "#ff7f0e", "#2ca02c", "#d62728", "#9467bd", "#8c564b"]},
                    "legend": {"orient": "none", "legendX": 1155, "legendY": 16, "title": null,
                               "symbolType": "stroke", "symbolSize": 4000, "symbolStrokeWidth": 4,
                               "labelFont": "DejaVu Sans", "labelFontSize": 28.5, "labelColor": "#222", "labelLimit": 500,
                               "labelOffset": 22, "padding": 10, "rowPadding": 14.6, "clipHeight": 29,
                               "fillColor": "rgba(255,255,255,0.8)", "strokeColor": "#d4d4d4", "cornerRadius": 6}}
        }
      }
    ]
  }
],
"resolve": {"scale": {"x": "independent", "y": "independent"}}
}
